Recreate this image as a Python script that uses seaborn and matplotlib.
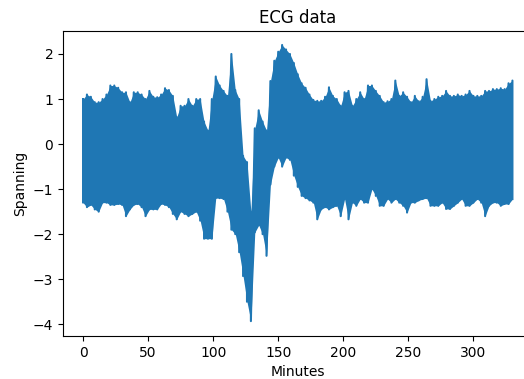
import matplotlib

matplotlib.use("Agg")
import matplotlib.pyplot as plt
import numpy as np
import seaborn as sns

# Envelope of the ECG trace, every 3 minutes
minutes = np.arange(0, 331, 3)

upper = [
    1.0, 1.1, 1.05, 0.93, 0.93, 1.0, 1.1, 1.3, 1.3, 1.25,
    1.15, 1.15, 0.93, 1.15, 1.15, 1.1, 1.0, 1.18, 1.05, 1.04,
    1.1, 1.24, 1.2, 1.07, 0.6, 0.85, 0.85, 1.0, 0.85, 1.0,
    1.0, 0.5, 0.3, 1.0, 1.5, 1.3, 1.18, 1.07, 2.0, 1.2,
    1.0, -0.26, -0.4, -1.5, 0.35, 0.75, 0.5, 0.3, 1.4, 1.85,
    2.05, 2.2, 2.1, 2.0, 1.8, 1.55, 1.35, 1.25, 1.1, 0.98,
    0.96, 0.96, 1.05, 1.26, 1.07, 1.0, 0.85, 1.15, 1.18, 0.85,
    1.0, 1.15, 1.0, 1.3, 1.3, 1.18, 1.07, 0.93, 0.95, 1.0,
    1.41, 1.07, 1.15, 1.05, 0.93, 1.07, 0.95, 1.05, 1.44, 0.96,
    1.0, 1.05, 1.07, 1.18, 1.07, 1.07, 1.1, 1.07, 1.1, 1.18,
    1.07, 1.07, 1.07, 1.18, 1.18, 1.22, 1.22, 1.24, 1.22, 1.35,
    1.41,
]

lower = [
    -1.3, -1.4, -1.35, -1.45, -1.5, -1.3, -1.3, -1.35, -1.35, -1.33,
    -1.35, -1.6, -1.45, -1.35, -1.33, -1.4, -1.6, -1.45, -1.45, -1.45,
    -1.33, -1.35, -1.4, -1.55, -1.67, -1.5, -1.55, -1.6, -1.55, -1.5,
    -1.7, -2.1, -2.1, -2.1, -1.2, -1.2, -1.22, -1.5, -1.9, -2.0,
    -2.4, -2.93, -3.5, -3.93, -1.96, -1.8, -2.0, -2.48, -0.9, -0.5,
    -0.3, -0.5, -0.3, -0.35, -0.7, -0.95, -1.15, -1.2, -1.25, -1.3,
    -1.67, -1.45, -1.4, -1.45, -1.4, -1.37, -1.6, -1.22, -1.67, -1.3,
    -1.37, -1.22, -1.3, -1.3, -1.0, -1.15, -1.37, -1.37, -1.22, -1.3,
    -1.22, -1.3, -1.37, -1.52, -1.3, -1.3, -1.25, -1.22, -1.2, -1.37,
    -1.37, -1.37, -1.3, -1.44, -1.44, -1.37, -1.3, -1.22, -1.37, -1.37,
    -1.3, -1.22, -1.3, -1.6, -1.37, -1.3, -1.3, -1.37, -1.33, -1.33,
    -1.22,
]

xticks = [0, 50, 100, 150, 200, 250, 300]
yticks = [-4, -3, -2, -1, 0, 1, 2]

# the trace swings between the envelope edges at every sample
trace_t = np.repeat(minutes, 2)
trace_v = np.column_stack([upper, lower]).ravel()

plt.rcParams["savefig.bbox"] = "standard"
color = "#1f77b4"
fig = plt.figure(figsize=(5.24, 3.79), dpi=100)
# the reference is cut off on the right, so the axes run past the edge
ax = fig.add_axes([63 / 524, 43 / 379, 470 / 524, 305 / 379])

ax.fill_between(minutes, lower, upper, color=color, lw=0)
sns.lineplot(
    x=trace_t, y=trace_v, sort=False, estimator=None, color=color, lw=1.5, ax=ax
)

ax.set_xlim(-15.4, 345.8)
ax.set_ylim(-4.26, 2.51)
ax.set_xticks(xticks)
ax.set_yticks(yticks)
ax.spines["right"].set_visible(False)
ax.set_title("ECG data", fontsize=12)
ax.set_xlabel("Minutes")
ax.set_ylabel("Spanning")

fig.savefig("out.png", dpi=100)
